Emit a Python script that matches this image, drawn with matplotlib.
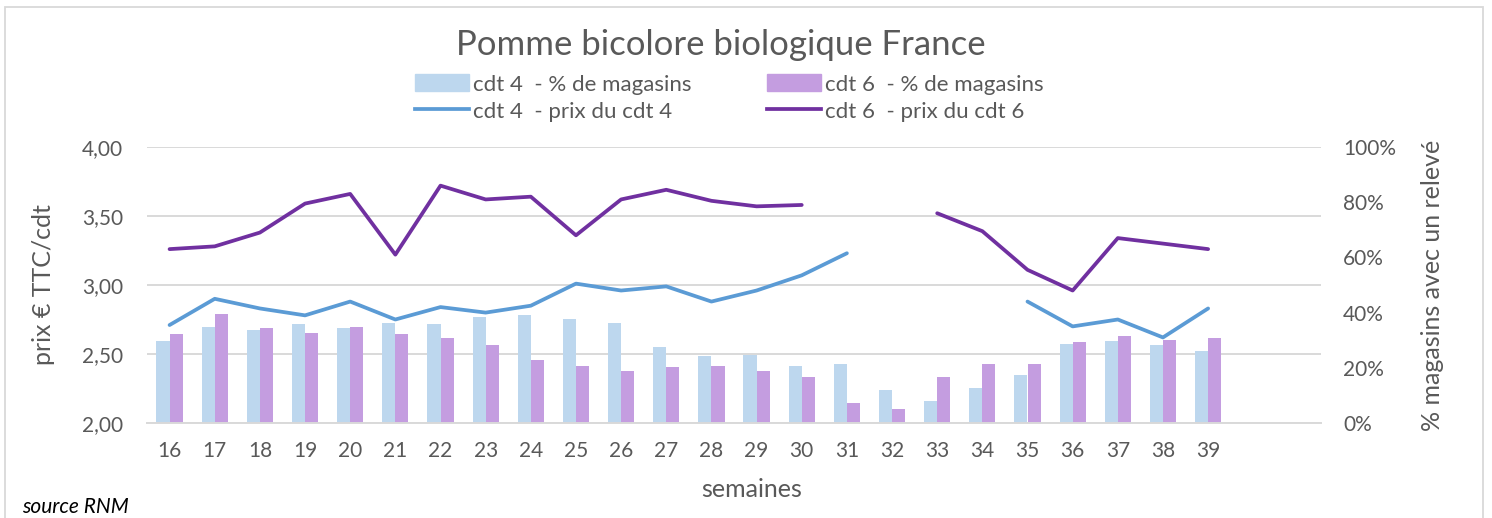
import matplotlib.pyplot as plt
from matplotlib.patches import Patch, Rectangle
from matplotlib.lines import Line2D
from matplotlib.ticker import FuncFormatter
import numpy as np

plt.rcParams['font.family'] = ['Lato', 'DejaVu Sans']

semaines = list(range(16, 40))
pct_cdt4 = [29.7, 34.8, 33.7, 35.9, 34.4, 36.2, 35.7, 38.4, 39.0, 37.7, 36.4, 27.7,
            24.3, 24.6, 20.8, 21.3, 11.9, 8.0, 12.7, 17.4, 28.6, 29.7, 28.2, 26.1]
pct_cdt6 = [32.2, 39.5, 34.4, 32.6, 34.9, 32.2, 30.9, 28.2, 22.8, 20.8, 18.7, 20.2,
            20.8, 18.7, 16.8, 7.1, 5.1, 16.7, 21.4, 21.4, 29.3, 31.5, 30.2, 30.8]
prix_cdt4 = [2.71, 2.90, 2.83, 2.78, 2.88, 2.75, 2.84, 2.80, 2.85, 3.01, 2.96, 2.99,
             2.88, 2.96, 3.07, 3.23, None, None, None, 2.88, 2.70, 2.75, 2.62, 2.83]
prix_cdt6 = [3.26, 3.28, 3.38, 3.59, 3.66, 3.22, 3.72, 3.62, 3.64, 3.36, 3.62, 3.69,
             3.61, 3.57, 3.58, None, None, 3.52, 3.39, 3.11, 2.96, 3.34, 3.30, 3.26]

c_bar4 = '#bdd7ee'
c_bar6 = '#c49de0'
c_line4 = '#5b9bd5'
c_line6 = '#7030a0'
c_txt = '#595959'
c_grid = '#d9d9d9'

x = np.array(semaines)
p4 = np.array([np.nan if v is None else v for v in prix_cdt4])
p6 = np.array([np.nan if v is None else v for v in prix_cdt6])

fig = plt.figure(figsize=(14.92, 5.18), dpi=100)
fig.patches.append(Rectangle((5 / 1492, -0.1), 1478 / 1492, 1.1 - 7 / 518,
                             transform=fig.transFigure, fill=False,
                             edgecolor=c_grid, lw=1.3))

# barres : % de magasins (axe de droite)
ax = fig.add_axes([147 / 1492, 1 - 423 / 518, 1174 / 1492, 276 / 518])
w = 0.29
ax.bar(x - w / 2, pct_cdt4, width=w, color=c_bar4, zorder=2)
ax.bar(x + w / 2, pct_cdt6, width=w, color=c_bar6, zorder=2)
ax.set_ylim(0, 100)
ax.set_xlim(15.5, 41.5)
ax.set_yticks(range(0, 101, 20))
ax.yaxis.set_major_formatter(FuncFormatter(lambda v, _: f'{v:.0f}%'))
ax.yaxis.remove_overlapping_locs = False
ax.set_yticks([0, 25, 50, 75, 100], minor=True)
ax.grid(False)
ax.grid(True, which='minor', axis='y', color=c_grid, lw=1.4)
ax.set_axisbelow(True)
ax.set_xticks(semaines)
ax.tick_params(axis='x', length=0, labelsize=15, labelcolor=c_txt, pad=13)
for s in ['top', 'left', 'right']:
    ax.spines[s].set_visible(False)
ax.spines['bottom'].set_color(c_grid)
ax.spines['bottom'].set_linewidth(1.4)
ax.set_xlabel('semaines', fontsize=18, color=c_txt)
ax.xaxis.set_label_coords(0.515, -0.2)

# lignes : prix (axe de gauche)
ax2 = ax.twinx()
ax2.plot(x, p4, color=c_line4, lw=2.7, solid_capstyle='round')
ax2.plot(x, p6, color=c_line6, lw=2.7, solid_capstyle='round')
ax2.set_ylim(2, 4)
ax2.set_yticks(np.arange(2, 4.01, 0.5))
ax2.yaxis.set_major_formatter(FuncFormatter(lambda v, _: f'{v:.2f}'.replace('.', ',')))
for s in ax2.spines.values():
    s.set_visible(False)

ax.yaxis.tick_right()
ax.yaxis.set_label_position('right')
ax.tick_params(axis='y', which='both', length=0, labelsize=15, labelcolor=c_txt, pad=16)
ax.set_ylabel('% magasins avec un relevé', fontsize=18, color=c_txt)
ax.yaxis.set_label_coords(1.085, 0.5)

ax2.yaxis.tick_left()
ax2.yaxis.set_label_position('left')
ax2.tick_params(axis='y', length=0, labelsize=15, labelcolor=c_txt, pad=17)
ax2.set_ylabel('prix € TTC/cdt', fontsize=18, color=c_txt)
ax2.yaxis.set_label_coords(-0.078, 0.5)

fig.text(721 / 1492, 1 - 45 / 518, 'Pomme bicolore biologique France', ha='center',
         va='center', fontsize=25, color=c_txt)

handles = [Patch(color=c_bar4), Line2D([], [], color=c_line4, lw=2.7),
           Patch(color=c_bar6), Line2D([], [], color=c_line6, lw=2.7)]
labels = ['cdt 4  - % de magasins', 'cdt 4  - prix du cdt 4',
          'cdt 6  - % de magasins', 'cdt 6  - prix du cdt 6']
fig.legend(handles, labels, ncol=2, loc='center', bbox_to_anchor=(0.489, 1 - 98 / 518),
           frameon=False, fontsize=16, labelcolor=c_txt, handlelength=2.4,
           handleheight=0.8, handletextpad=0.2, columnspacing=3.4, labelspacing=0.3,
           borderpad=0)

fig.text(22 / 1492, 1 - 507 / 518, 'source RNM', ha='left', va='center', fontsize=15,
         style='italic', color='black')

fig.savefig('out.png', dpi=100)
